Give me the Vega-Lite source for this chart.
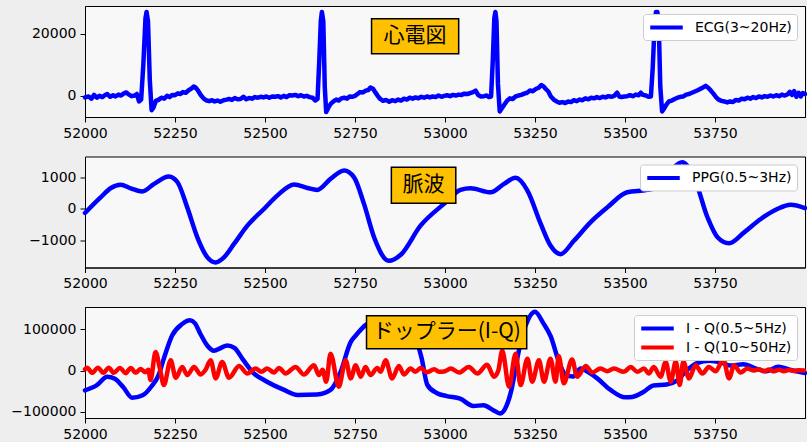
{
  "$schema": "https://vega.github.io/schema/vega-lite/v6.json",
  "background": "#eeeeee",
  "padding": {"left": 10, "top": 5, "right": 2, "bottom": 0},
  "spacing": 14.5,
  "resolve": {"scale": {"color": "independent"}, "legend": {"color": "independent"}},
  "datasets": {
    "ecg": [
      {"t":52000,"v":-500},{"t":52010,"v":-200},{"t":52018,"v":-900},{"t":52025,"v":300},{"t":52033,"v":-600},{"t":52040,"v":0},{"t":52048,"v":-400},{"t":52055,"v":200},{"t":52062,"v":600},{"t":52070,"v":-300},{"t":52078,"v":200},{"t":52085,"v":-200},{"t":52093,"v":400},{"t":52100,"v":100},{"t":52108,"v":800},{"t":52115,"v":1100},{"t":52122,"v":400},{"t":52130,"v":-100},{"t":52138,"v":100},{"t":52144,"v":600},{"t":52150,"v":-1800},{"t":52156,"v":-1200},{"t":52162,"v":10000},{"t":52168,"v":25000},{"t":52171,"v":27000},{"t":52175,"v":24000},{"t":52180,"v":5000},{"t":52185,"v":-4600},{"t":52190,"v":-3800},{"t":52197,"v":-1600},{"t":52205,"v":-1200},{"t":52212,"v":-600},{"t":52220,"v":-900},{"t":52228,"v":0},{"t":52235,"v":-400},{"t":52242,"v":300},{"t":52250,"v":200},{"t":52258,"v":800},{"t":52265,"v":600},{"t":52272,"v":1200},{"t":52280,"v":1000},{"t":52288,"v":1800},{"t":52295,"v":2300},{"t":52302,"v":3000},{"t":52308,"v":2600},{"t":52315,"v":1500},{"t":52322,"v":200},{"t":52330,"v":-900},{"t":52338,"v":-1500},{"t":52345,"v":-1700},{"t":52353,"v":-1400},{"t":52360,"v":-1800},{"t":52368,"v":-1500},{"t":52376,"v":-1900},{"t":52385,"v":-1400},{"t":52393,"v":-1200},{"t":52400,"v":-1000},{"t":52408,"v":-1300},{"t":52416,"v":-700},{"t":52424,"v":-1100},{"t":52432,"v":-1000},{"t":52440,"v":-300},{"t":52448,"v":-1100},{"t":52456,"v":-700},{"t":52464,"v":-900},{"t":52472,"v":-400},{"t":52480,"v":-600},{"t":52488,"v":-300},{"t":52496,"v":-500},{"t":52504,"v":-200},{"t":52512,"v":-600},{"t":52520,"v":-200},{"t":52528,"v":-300},{"t":52536,"v":-100},{"t":52544,"v":-500},{"t":52552,"v":0},{"t":52560,"v":-400},{"t":52568,"v":200},{"t":52576,"v":100},{"t":52584,"v":300},{"t":52592,"v":-100},{"t":52600,"v":200},{"t":52608,"v":-200},{"t":52616,"v":0},{"t":52624,"v":-400},{"t":52632,"v":-600},{"t":52640,"v":-1500},{"t":52646,"v":-1000},{"t":52651,"v":12000},{"t":52655,"v":24000},{"t":52658,"v":27000},{"t":52662,"v":24000},{"t":52666,"v":3000},{"t":52670,"v":-5200},{"t":52676,"v":-3800},{"t":52683,"v":-2500},{"t":52690,"v":-1800},{"t":52698,"v":-1200},{"t":52705,"v":-1500},{"t":52712,"v":-800},{"t":52720,"v":-600},{"t":52728,"v":-900},{"t":52735,"v":-200},{"t":52742,"v":-300},{"t":52750,"v":0},{"t":52757,"v":600},{"t":52764,"v":1200},{"t":52772,"v":1100},{"t":52780,"v":1700},{"t":52787,"v":1900},{"t":52793,"v":2700},{"t":52800,"v":2300},{"t":52806,"v":1200},{"t":52813,"v":0},{"t":52820,"v":-1000},{"t":52828,"v":-1600},{"t":52836,"v":-1300},{"t":52845,"v":-1900},{"t":52853,"v":-1400},{"t":52862,"v":-1700},{"t":52870,"v":-1200},{"t":52878,"v":-1500},{"t":52886,"v":-900},{"t":52894,"v":-1200},{"t":52902,"v":-600},{"t":52910,"v":-900},{"t":52918,"v":-500},{"t":52926,"v":-800},{"t":52934,"v":-300},{"t":52942,"v":-600},{"t":52950,"v":-200},{"t":52958,"v":-500},{"t":52966,"v":-200},{"t":52974,"v":-400},{"t":52982,"v":100},{"t":52990,"v":-300},{"t":52998,"v":0},{"t":53006,"v":200},{"t":53014,"v":-100},{"t":53022,"v":300},{"t":53030,"v":100},{"t":53038,"v":400},{"t":53046,"v":300},{"t":53054,"v":700},{"t":53062,"v":600},{"t":53070,"v":900},{"t":53078,"v":1200},{"t":53085,"v":1700},{"t":53092,"v":300},{"t":53100,"v":-200},{"t":53108,"v":-100},{"t":53116,"v":100},{"t":53122,"v":-400},{"t":53128,"v":-200},{"t":53133,"v":12000},{"t":53137,"v":25000},{"t":53140,"v":27000},{"t":53143,"v":24000},{"t":53147,"v":4000},{"t":53152,"v":-5000},{"t":53158,"v":-4000},{"t":53165,"v":-2800},{"t":53173,"v":-1500},{"t":53180,"v":-800},{"t":53188,"v":-1000},{"t":53196,"v":-200},{"t":53204,"v":100},{"t":53212,"v":300},{"t":53220,"v":700},{"t":53228,"v":1000},{"t":53236,"v":1700},{"t":53244,"v":1500},{"t":53252,"v":2200},{"t":53260,"v":2600},{"t":53268,"v":3500},{"t":53274,"v":3000},{"t":53280,"v":2200},{"t":53287,"v":1400},{"t":53294,"v":-200},{"t":53302,"v":-1200},{"t":53310,"v":-1800},{"t":53318,"v":-2200},{"t":53326,"v":-2000},{"t":53334,"v":-2300},{"t":53342,"v":-1800},{"t":53350,"v":-2000},{"t":53358,"v":-1400},{"t":53366,"v":-1700},{"t":53374,"v":-1200},{"t":53382,"v":-1400},{"t":53390,"v":-800},{"t":53398,"v":-1100},{"t":53406,"v":-600},{"t":53414,"v":-800},{"t":53422,"v":-400},{"t":53430,"v":-700},{"t":53438,"v":-300},{"t":53446,"v":-500},{"t":53454,"v":-100},{"t":53462,"v":-300},{"t":53470,"v":0},{"t":53478,"v":1000},{"t":53484,"v":-200},{"t":53490,"v":-400},{"t":53498,"v":-200},{"t":53506,"v":-100},{"t":53514,"v":200},{"t":53522,"v":-100},{"t":53530,"v":400},{"t":53538,"v":200},{"t":53544,"v":1000},{"t":53550,"v":300},{"t":53558,"v":100},{"t":53565,"v":-300},{"t":53572,"v":-200},{"t":53577,"v":9000},{"t":53582,"v":22000},{"t":53586,"v":27000},{"t":53590,"v":27000},{"t":53594,"v":22000},{"t":53598,"v":3000},{"t":53603,"v":-5000},{"t":53608,"v":-4200},{"t":53615,"v":-2800},{"t":53622,"v":-1800},{"t":53630,"v":-1500},{"t":53638,"v":-1000},{"t":53646,"v":-600},{"t":53654,"v":-300},{"t":53662,"v":-200},{"t":53670,"v":400},{"t":53678,"v":600},{"t":53686,"v":1000},{"t":53694,"v":1400},{"t":53702,"v":1800},{"t":53710,"v":2300},{"t":53718,"v":2800},{"t":53724,"v":3200},{"t":53730,"v":2700},{"t":53737,"v":1900},{"t":53745,"v":800},{"t":53752,"v":-300},{"t":53760,"v":-1200},{"t":53768,"v":-1600},{"t":53776,"v":-1800},{"t":53784,"v":-2100},{"t":53792,"v":-1800},{"t":53800,"v":-2000},{"t":53808,"v":-1300},{"t":53816,"v":-1500},{"t":53824,"v":-900},{"t":53832,"v":-1100},{"t":53840,"v":-600},{"t":53848,"v":-900},{"t":53856,"v":-400},{"t":53864,"v":-700},{"t":53872,"v":-200},{"t":53880,"v":-500},{"t":53888,"v":-100},{"t":53896,"v":-300},{"t":53904,"v":100},{"t":53912,"v":-200},{"t":53920,"v":200},{"t":53928,"v":-100},{"t":53936,"v":400},{"t":53944,"v":100},{"t":53952,"v":500},{"t":53958,"v":1300},{"t":53964,"v":300},{"t":53970,"v":1500},{"t":53976,"v":-300},{"t":53982,"v":1000},{"t":53988,"v":-200},{"t":53994,"v":900},{"t":54000,"v":600}
    ],
    "ppg": [
      {"t":52000,"v":-126},{"t":52044,"v":370},{"t":52072,"v":660},{"t":52099,"v":760},{"t":52127,"v":650},{"t":52159,"v":550},{"t":52192,"v":790},{"t":52233,"v":1020},{"t":52257,"v":840},{"t":52284,"v":50},{"t":52312,"v":-890},{"t":52340,"v":-1520},{"t":52363,"v":-1680},{"t":52386,"v":-1520},{"t":52414,"v":-1100},{"t":52451,"v":-525},{"t":52497,"v":0},{"t":52534,"v":420},{"t":52581,"v":770},{"t":52618,"v":660},{"t":52645,"v":600},{"t":52682,"v":945},{"t":52720,"v":1210},{"t":52747,"v":1000},{"t":52775,"v":160},{"t":52803,"v":-890},{"t":52844,"v":-1630},{"t":52877,"v":-1440},{"t":52932,"v":-525},{"t":52997,"v":160},{"t":53043,"v":600},{"t":53071,"v":650},{"t":53127,"v":525},{"t":53164,"v":790},{"t":53196,"v":980},{"t":53229,"v":580},{"t":53266,"v":-470},{"t":53293,"v":-1150},{"t":53321,"v":-1420},{"t":53358,"v":-1000},{"t":53404,"v":-420},{"t":53451,"v":50},{"t":53506,"v":525},{"t":53562,"v":600},{"t":53590,"v":680},{"t":53627,"v":1210},{"t":53659,"v":1470},{"t":53692,"v":1000},{"t":53729,"v":-260},{"t":53757,"v":-890},{"t":53789,"v":-1080},{"t":53831,"v":-735},{"t":53877,"v":-315},{"t":53923,"v":0},{"t":53960,"v":136},{"t":54000,"v":30}
    ],
    "iqlow": [
      {"t":52000,"v":-48000},{"t":52032,"v":-36000},{"t":52062,"v":-15000},{"t":52083,"v":-20000},{"t":52106,"v":-40000},{"t":52131,"v":-66000},{"t":52160,"v":-60000},{"t":52185,"v":-38000},{"t":52205,"v":-10000},{"t":52219,"v":29000},{"t":52242,"v":85000},{"t":52269,"v":112000},{"t":52292,"v":121600},{"t":52305,"v":115000},{"t":52321,"v":88000},{"t":52340,"v":60000},{"t":52358,"v":48000},{"t":52378,"v":55000},{"t":52395,"v":61000},{"t":52415,"v":55000},{"t":52440,"v":25000},{"t":52469,"v":-7000},{"t":52497,"v":-23000},{"t":52553,"v":-47000},{"t":52590,"v":-59000},{"t":52645,"v":-58000},{"t":52682,"v":-47000},{"t":52710,"v":-3000},{"t":52738,"v":69000},{"t":52752,"v":85000},{"t":52782,"v":112000},{"t":52810,"v":122000},{"t":52840,"v":115000},{"t":52880,"v":100000},{"t":52914,"v":85000},{"t":52935,"v":30000},{"t":52951,"v":-35000},{"t":52978,"v":-55000},{"t":53005,"v":-62000},{"t":53042,"v":-68000},{"t":53079,"v":-86000},{"t":53107,"v":-84000},{"t":53134,"v":-96000},{"t":53153,"v":-104000},{"t":53171,"v":-85000},{"t":53185,"v":-45000},{"t":53200,"v":25000},{"t":53213,"v":80000},{"t":53231,"v":124000},{"t":53250,"v":142400},{"t":53273,"v":115000},{"t":53294,"v":82000},{"t":53315,"v":25000},{"t":53335,"v":-10000},{"t":53356,"v":-14400},{"t":53377,"v":5000},{"t":53400,"v":-5000},{"t":53423,"v":-19000},{"t":53460,"v":-47000},{"t":53500,"v":-65000},{"t":53520,"v":-64000},{"t":53551,"v":-52000},{"t":53579,"v":-36000},{"t":53616,"v":-33600},{"t":53643,"v":-25000},{"t":53671,"v":0},{"t":53700,"v":18000},{"t":53735,"v":24000},{"t":53766,"v":20000},{"t":53792,"v":12000},{"t":53829,"v":15000},{"t":53866,"v":4000},{"t":53893,"v":-1600},{"t":53926,"v":9000},{"t":53958,"v":2000},{"t":54000,"v":-6000}
    ],
    "iqhigh": [
      {"t":52000,"v":3000},{"t":52006,"v":7000},{"t":52020,"v":-5600},{"t":52036,"v":7000},{"t":52051,"v":-5600},{"t":52066,"v":7000},{"t":52080,"v":-5600},{"t":52097,"v":6400},{"t":52113,"v":-6400},{"t":52127,"v":6400},{"t":52141,"v":-5600},{"t":52154,"v":4000},{"t":52168,"v":-4000},{"t":52176,"v":2000},{"t":52182,"v":-23000},{"t":52196,"v":45000},{"t":52208,"v":5000},{"t":52219,"v":-35000},{"t":52238,"v":25000},{"t":52252,"v":-17600},{"t":52270,"v":8800},{"t":52284,"v":-11000},{"t":52303,"v":8800},{"t":52321,"v":-9600},{"t":52335,"v":2000},{"t":52349,"v":25000},{"t":52363,"v":-19000},{"t":52381,"v":21000},{"t":52400,"v":-17600},{"t":52428,"v":11000},{"t":52451,"v":-7200},{"t":52474,"v":4800},{"t":52490,"v":-3000},{"t":52506,"v":4800},{"t":52525,"v":-4800},{"t":52539,"v":6400},{"t":52557,"v":-7200},{"t":52585,"v":8800},{"t":52608,"v":-9600},{"t":52636,"v":12800},{"t":52650,"v":-11000},{"t":52660,"v":2000},{"t":52670,"v":-27000},{"t":52682,"v":40800},{"t":52705,"v":-39000},{"t":52724,"v":24800},{"t":52738,"v":-19000},{"t":52752,"v":12800},{"t":52766,"v":-15000},{"t":52779,"v":8800},{"t":52793,"v":-11000},{"t":52812,"v":6400},{"t":52821,"v":-3000},{"t":52835,"v":25000},{"t":52853,"v":-19000},{"t":52872,"v":11000},{"t":52886,"v":-9600},{"t":52904,"v":4800},{"t":52918,"v":-3200},{"t":52932,"v":6400},{"t":52950,"v":-4000},{"t":52970,"v":3000},{"t":52985,"v":-3000},{"t":53000,"v":-1600},{"t":53016,"v":4800},{"t":53039,"v":-4800},{"t":53066,"v":8800},{"t":53090,"v":-7200},{"t":53117,"v":14000},{"t":53136,"v":-15000},{"t":53148,"v":0},{"t":53159,"v":48000},{"t":53178,"v":-39000},{"t":53196,"v":40800},{"t":53210,"v":-35000},{"t":53229,"v":28800},{"t":53242,"v":-27000},{"t":53261,"v":24800},{"t":53275,"v":-27000},{"t":53293,"v":28800},{"t":53307,"v":-27000},{"t":53316,"v":35000},{"t":53330,"v":-31000},{"t":53353,"v":27000},{"t":53367,"v":-15000},{"t":53391,"v":11000},{"t":53409,"v":-4800},{"t":53432,"v":4800},{"t":53451,"v":-1600},{"t":53469,"v":4800},{"t":53497,"v":-3200},{"t":53516,"v":8800},{"t":53534,"v":-3200},{"t":53553,"v":4800},{"t":53566,"v":-7200},{"t":53580,"v":8800},{"t":53599,"v":-15000},{"t":53613,"v":20800},{"t":53627,"v":-27000},{"t":53641,"v":22000},{"t":53652,"v":-35000},{"t":53662,"v":22000},{"t":53678,"v":-19000},{"t":53696,"v":12800},{"t":53715,"v":-7200},{"t":53733,"v":8800},{"t":53752,"v":-1600},{"t":53773,"v":27000},{"t":53789,"v":-19000},{"t":53803,"v":12800},{"t":53821,"v":-4800},{"t":53840,"v":4800},{"t":53858,"v":0},{"t":53872,"v":3000},{"t":53886,"v":-2000},{"t":53900,"v":2500},{"t":53914,"v":-2000},{"t":53928,"v":2000},{"t":53941,"v":-1500},{"t":53955,"v":1500},{"t":53969,"v":-1000},{"t":53983,"v":1000},{"t":53997,"v":0}
    ]
  },
  "config": {
    "view": {"stroke": "black", "strokeWidth": 1, "fill": "#f8f8f8"},
    "line": {"strokeJoin": "round", "strokeCap": "round", "clip": true},
    "axis": {"domainColor": "black", "tickColor": "black", "labelColor": "black", "labelFont": "DejaVu Sans", "labelFontSize": 14, "tickSize": 5, "labelPadding": 4, "labelFlush": false, "grid": false, "title": null},
    "legend": {"orient": "top-right", "offset": 8, "symbolType": "M-2.5,0H2.5", "symbolSize": 169, "symbolStrokeWidth": 4, "symbolOffset": 10, "labelFont": "DejaVu Sans", "labelFontSize": 14, "labelColor": "black", "fillColor": "white", "strokeColor": "#cccccc", "padding": 5, "cornerRadius": 3, "title": null, "rowPadding": 3, "labelOffset": 20}
  },
  "vconcat": [
    {
      "width": 720, "height": 111,
      "layer": [
        {
          "data": {"name": "ecg"},
          "mark": {"type": "line", "strokeWidth": 4.5},
          "encoding": {
            "x": {"field": "t", "type": "quantitative", "scale": {"domain": [52000, 54000], "nice": false, "zero": false}, "axis": {"values": [52000, 52250, 52500, 52750, 53000, 53250, 53500, 53750], "format": "d"}},
            "y": {"field": "v", "type": "quantitative", "scale": {"domain": [-6800, 28900], "nice": false, "zero": false}, "axis": {"values": [0, 20000], "format": "d"}},
            "color": {"datum": "ECG(3~20Hz)", "scale": {"domain": ["ECG(3~20Hz)"], "range": ["#0000ff"]}}
          }
        },
        {
          "data": {"values": [{}]},
          "mark": {"type": "rect", "fill": "#ffc000", "stroke": "black", "strokeWidth": 1.5},
          "encoding": {"x": {"datum": 52796}, "x2": {"datum": 53038}, "y": {"datum": 24800}, "y2": {"datum": 13540}}
        },
        {
          "data": {"values": [{}]},
          "mark": {"type": "text", "text": "心電図", "font": "Noto Sans CJK JP", "fontSize": 21, "color": "black", "align": "center", "baseline": "middle"},
          "encoding": {"x": {"datum": 52917}, "y": {"datum": 19170}}
        }
      ]
    },
    {
      "width": 720, "height": 111,
      "layer": [
        {
          "data": {"name": "ppg"},
          "mark": {"type": "line", "strokeWidth": 4.5, "interpolate": "monotone"},
          "encoding": {
            "x": {"field": "t", "type": "quantitative", "scale": {"domain": [52000, 54000], "nice": false, "zero": false}, "axis": {"values": [52000, 52250, 52500, 52750, 53000, 53250, 53500, 53750], "format": "d"}},
            "y": {"field": "v", "type": "quantitative", "scale": {"domain": [-1840, 1650], "nice": false, "zero": false}, "axis": {"values": [-1000, 0, 1000], "format": "d"}},
            "color": {"datum": "PPG(0.5~3Hz)", "scale": {"domain": ["PPG(0.5~3Hz)"], "range": ["#0000ff"]}}
          }
        },
        {
          "data": {"values": [{}]},
          "mark": {"type": "rect", "fill": "#ffc000", "stroke": "black", "strokeWidth": 1.5},
          "encoding": {"x": {"datum": 52851}, "x2": {"datum": 53030}, "y": {"datum": 1312}, "y2": {"datum": 177}}
        },
        {
          "data": {"values": [{}]},
          "mark": {"type": "text", "text": "脈波", "font": "Noto Sans CJK JP", "fontSize": 21, "color": "black", "align": "center", "baseline": "middle"},
          "encoding": {"x": {"datum": 52940}, "y": {"datum": 745}}
        }
      ]
    },
    {
      "width": 720, "height": 111,
      "layer": [
        {
          "data": {"name": "iqlow"},
          "mark": {"type": "line", "strokeWidth": 4.5, "interpolate": "monotone"},
          "encoding": {
            "x": {"field": "t", "type": "quantitative", "scale": {"domain": [52000, 54000], "nice": false, "zero": false}, "axis": {"values": [52000, 52250, 52500, 52750, 53000, 53250, 53500, 53750], "format": "d"}},
            "y": {"field": "v", "type": "quantitative", "scale": {"domain": [-115000, 154000], "nice": false, "zero": false}, "axis": {"values": [-100000, 0, 100000], "format": "d"}},
            "color": {"datum": "I - Q(0.5~5Hz)", "scale": {"domain": ["I - Q(0.5~5Hz)", "I - Q(10~50Hz)"], "range": ["#0000ff", "#ff0000"]}}
          }
        },
        {
          "data": {"name": "iqhigh"},
          "mark": {"type": "line", "strokeWidth": 4.5, "interpolate": "monotone"},
          "encoding": {
            "x": {"field": "t", "type": "quantitative"},
            "y": {"field": "v", "type": "quantitative"},
            "color": {"datum": "I - Q(10~50Hz)"}
          }
        },
        {
          "data": {"values": [{}]},
          "mark": {"type": "rect", "fill": "#ffc000", "stroke": "black", "strokeWidth": 1.5},
          "encoding": {"x": {"datum": 52782}, "x2": {"datum": 53227}, "y": {"datum": 132700}, "y2": {"datum": 52800}}
        },
        {
          "data": {"values": [{}]},
          "mark": {"type": "text", "text": "ドップラー(I-Q)", "font": "Noto Sans CJK JP", "fontSize": 21, "color": "black", "align": "center", "baseline": "middle"},
          "encoding": {"x": {"datum": 53005}, "y": {"datum": 92700}}
        }
      ]
    }
  ]
}
